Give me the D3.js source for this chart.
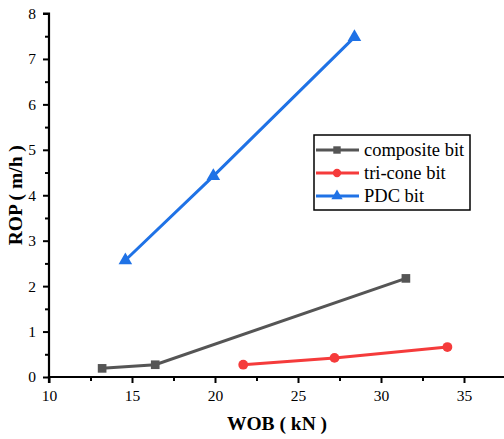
<!DOCTYPE html>
<html><head><meta charset="utf-8">
<script src="https://cdn.jsdelivr.net/npm/d3@7"></script>
<style>body{margin:0;background:#fff}svg{display:block}</style>
</head><body>
<script>
const seriesNames = ["composite bit", "tri-cone bit", "PDC bit"];
const compositeX = [13.2, 16.4, 31.5];
const compositeY = [0.19, 0.27, 2.17];
const triconeX = [21.7, 27.2, 34.0];
const triconeY = [0.27, 0.42, 0.66];
const pdcX = [14.6, 19.9, 28.4];
const pdcY = [2.57, 4.42, 7.48];
const xTicks = [10, 15, 20, 25, 30, 35];
const yTicks = [0, 1, 2, 3, 4, 5, 6, 7, 8];
const colors = ["#555555", "#f53b3b", "#1f72e6"];
const symbols = [d3.symbolSquare, d3.symbolCircle, d3.symbolTriangle];

const W = 504, H = 439;
const svg = d3.select("body").append("svg").attr("width", W).attr("height", H);
const x = d3.scaleLinear().domain([10, 37.5]).range([49, 505.5]);
const y = d3.scaleLinear().domain([0, 8]).range([377, 13.5]);
const font = "'Liberation Serif','Times New Roman',serif";

const series = [
  {name: seriesNames[0], xs: compositeX, ys: compositeY},
  {name: seriesNames[1], xs: triconeX, ys: triconeY},
  {name: seriesNames[2], xs: pdcX, ys: pdcY}
];

// axes
const xAxis = d3.axisBottom(x).tickValues(xTicks).tickSize(6).tickPadding(7).tickFormat(d3.format("d"));
const gx = svg.append("g").attr("transform", `translate(0,${y(0)})`).call(xAxis);
const xMinor = d3.axisBottom(x).tickValues([12.5,17.5,22.5,27.5,32.5]).tickSize(4).tickFormat("");
svg.append("g").attr("transform", `translate(0,${y(0)})`).call(xMinor).select(".domain").remove();
const yAxis = d3.axisLeft(y).tickValues(yTicks).tickSize(6).tickPadding(7).tickFormat(d3.format("d"));
const gy = svg.append("g").attr("transform", `translate(${x(10)},0)`).call(yAxis);
const yMinor = d3.axisLeft(y).tickValues([0.5,1.5,2.5,3.5,4.5,5.5,6.5,7.5]).tickSize(4).tickFormat("");
svg.append("g").attr("transform", `translate(${x(10)},0)`).call(yMinor).select(".domain").remove();

svg.selectAll(".domain").attr("stroke", "#000").attr("stroke-width", 2.2);
svg.selectAll(".tick line").attr("stroke", "#000").attr("stroke-width", 2);
svg.selectAll(".tick text").attr("font-family", font).attr("font-size", 15.5).attr("fill", "#000");
gx.select(".domain").attr("d", `M${x(10)},6V0H${x(37.5)}`);
gy.select(".domain").attr("d", `M-6,${y(8)}H0V${y(0)}`);

// titles
svg.append("text").attr("x", 277).attr("y", 430).attr("text-anchor", "middle")
  .attr("font-family", font).attr("font-weight", "bold").attr("font-size", 19.5).text("WOB ( kN )");
svg.append("text").attr("transform", `translate(22,${y(4)}) rotate(-90)`).attr("text-anchor", "middle")
  .attr("font-family", font).attr("font-weight", "bold").attr("font-size", 19.5).text("ROP ( m/h )");

// lines
const line = d3.line().x(d => x(d[0])).y(d => y(d[1]));
series.forEach((s, i) => {
  const pts = s.xs.map((v, j) => [v, s.ys[j]]);
  svg.append("path").attr("d", line(pts)).attr("fill", "none")
    .attr("stroke", colors[i]).attr("stroke-width", 3);
  svg.selectAll(null).data(pts).enter().append("path")
    .attr("transform", d => `translate(${x(d[0])},${y(d[1])})`)
    .attr("d", d3.symbol().type(symbols[i]).size(i === 2 ? 80 : 75))
    .attr("fill", colors[i]);
});

// legend
const lg = svg.append("g").attr("transform", "translate(314,135)");
lg.append("rect").attr("width", 156).attr("height", 75).attr("fill", "#fff")
  .attr("stroke", "#000").attr("stroke-width", 1.5);
series.forEach((s, i) => {
  const yy = 15 + i * 23;
  lg.append("line").attr("x1", 2).attr("x2", 45).attr("y1", yy).attr("y2", yy)
    .attr("stroke", colors[i]).attr("stroke-width", 3);
  lg.append("path").attr("transform", `translate(23,${yy})`)
    .attr("d", d3.symbol().type(symbols[i]).size(55)).attr("fill", colors[i]);
  lg.append("text").attr("x", 50).attr("y", yy + 6).attr("font-family", font)
    .attr("font-size", 18.5).attr("fill", "#000").text(s.name);
});
</script>
</body></html>
